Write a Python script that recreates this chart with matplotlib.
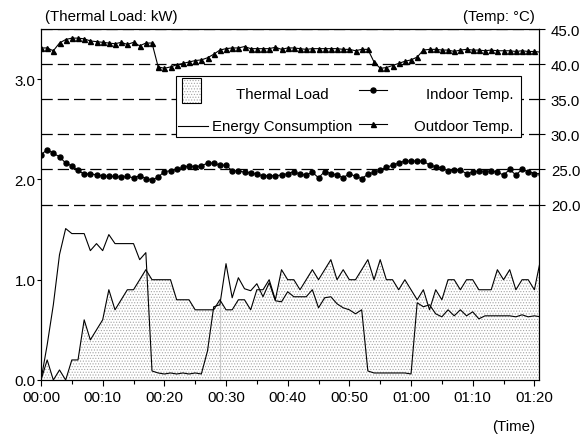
import numpy as np
import matplotlib
matplotlib.use("Agg")
import matplotlib.pyplot as plt
from matplotlib.patches import Rectangle
from matplotlib.lines import Line2D
from matplotlib.ticker import MultipleLocator, FuncFormatter

plt.rcParams['font.family'] = ['Liberation Sans', 'DejaVu Sans']
plt.rcParams['font.size'] = 10.8
plt.rcParams['hatch.linewidth'] = 0.5

# one sample per minute
minutes = np.arange(82)

thermal_load = [0.0, 0.2, 0.0, 0.1, 0.0, 0.2, 0.2, 0.6, 0.4, 0.5,
                0.6, 0.9, 0.7, 0.8, 0.9, 0.9, 1.0, 1.1, 1.0, 1.0,
                1.0, 1.0, 0.8, 0.8, 0.8, 0.7, 0.7, 0.7, 0.7, 0.8,
                0.7, 0.7, 0.8, 0.8, 0.7, 0.9, 0.9, 1.0, 0.8, 1.1,
                1.0, 1.0, 0.9, 1.0, 1.1, 1.0, 1.1, 1.2, 1.0, 1.1,
                1.0, 1.0, 1.1, 1.2, 1.0, 1.2, 1.0, 1.0, 0.9, 1.0,
                0.9, 0.8, 0.9, 0.7, 0.9, 0.8, 1.0, 1.0, 0.9, 1.0,
                1.0, 0.9, 0.9, 0.9, 1.1, 1.0, 1.1, 0.9, 1.0, 1.0,
                0.9, 1.2]

energy = [0.0, 0.35, 0.75, 1.25, 1.51, 1.46, 1.46, 1.46, 1.29, 1.36,
          1.29, 1.45, 1.36, 1.36, 1.36, 1.36, 1.20, 1.27, 0.09, 0.07,
          0.06, 0.07, 0.06, 0.07, 0.06, 0.07, 0.06, 0.29, 0.73, 0.75,
          1.16, 0.82, 1.02, 0.91, 0.89, 0.96, 0.83, 0.97, 0.79, 0.78,
          0.88, 0.83, 0.83, 0.83, 0.90, 0.72, 0.82, 0.83, 0.76, 0.72,
          0.70, 0.66, 0.70, 0.09, 0.07, 0.07, 0.07, 0.07, 0.07, 0.07,
          0.06, 0.77, 0.73, 0.75, 0.66, 0.63, 0.70, 0.64, 0.70, 0.64,
          0.68, 0.61, 0.64, 0.64, 0.64, 0.64, 0.64, 0.63, 0.65, 0.63,
          0.64, 0.63]

indoor_temp = [27.1, 27.8, 27.3, 26.8, 25.9, 25.5, 24.9, 24.3, 24.4, 24.2,
               24.1, 24.0, 24.0, 23.9, 24.0, 23.8, 24.1, 23.7, 23.5, 23.9,
               24.7, 24.8, 25.0, 25.3, 25.5, 25.4, 25.5, 25.9, 25.9, 25.6,
               25.6, 24.8, 24.8, 24.6, 24.5, 24.3, 24.1, 24.1, 24.1, 24.2,
               24.4, 24.7, 24.3, 24.2, 24.6, 23.8, 24.7, 24.4, 24.2, 23.8,
               24.4, 24.0, 23.7, 24.3, 24.6, 24.9, 25.3, 25.6, 25.9, 26.2,
               26.2, 26.2, 26.2, 25.6, 25.4, 25.2, 24.8, 24.9, 24.9, 24.4,
               24.6, 24.8, 24.7, 24.8, 24.6, 24.2, 25.0, 24.2, 25.0, 24.7,
               24.4, 24.4]

outdoor_temp = [42.3, 42.3, 41.9, 43.0, 43.5, 43.7, 43.7, 43.6, 43.3, 43.2,
                43.1, 43.0, 42.9, 43.1, 42.8, 43.1, 42.6, 43.0, 43.0, 39.6,
                39.4, 39.6, 39.9, 40.1, 40.3, 40.5, 40.6, 40.9, 41.4, 42.0,
                42.2, 42.3, 42.3, 42.5, 42.2, 42.2, 42.2, 42.2, 42.4, 42.1,
                42.3, 42.3, 42.2, 42.1, 42.2, 42.2, 42.2, 42.2, 42.2, 42.1,
                42.1, 41.9, 42.1, 42.1, 40.3, 39.4, 39.5, 39.8, 40.1, 40.4,
                40.6, 41.0, 42.0, 42.1, 42.1, 42.0, 42.0, 41.8, 42.0, 42.1,
                42.0, 42.0, 41.9, 42.0, 41.9, 41.9, 41.9, 41.8, 41.9, 41.8,
                41.8, 41.7]

W, H = 588, 439
DOT_GRAY = '#a4a4a4'


def fpos(x, y):
    # pixel position (top-left origin) -> figure fraction
    return x / W, 1 - y / H


fig = plt.figure(figsize=(W / 100, H / 100), dpi=100)
ax = fig.add_axes([41 / W, 1 - 381 / H, (539 - 41) / W, (381 - 30) / H])

# thermal load as dotted area, energy as plain line
ax.fill_between(minutes, thermal_load, 0, facecolor='white', edgecolor=DOT_GRAY,
                hatch='......', linewidth=0, zorder=1)
ax.vlines(minutes[29], 0, thermal_load[29], colors='#c8c8c8', lw=0.8, zorder=1.5)
ax.plot(minutes, thermal_load, color='black', lw=0.8, zorder=2)
ax.plot(minutes, energy, color='black', lw=0.8, zorder=2)

ax.set_xlim(0, 80.75)
ax.set_ylim(0, 3.5)
ax.xaxis.set_major_locator(MultipleLocator(10))
ax.xaxis.set_minor_locator(MultipleLocator(5))
ax.xaxis.set_major_formatter(FuncFormatter(lambda m, p: f"{int(m) // 60:02d}:{int(m) % 60:02d}"))
ax.set_yticks([0, 1, 2, 3])
ax.yaxis.set_major_formatter(FuncFormatter(lambda v, p: f"{v:.1f}"))
ax.tick_params(axis='y', direction='out', length=3, width=0.8, pad=1)
ax.tick_params(axis='x', which='major', direction='out', length=4, width=0.8, pad=3)
ax.tick_params(axis='x', which='minor', direction='out', length=3, width=0.8)
for s in ax.spines.values():
    s.set_linewidth(0.8)

# temperatures on the right axis
ax2 = ax.twinx()
ax2.set_ylim(-5, 45)
ax2.set_yticks([20, 25, 30, 35, 40, 45])
ax2.yaxis.set_major_formatter(FuncFormatter(lambda v, p: f"{v:.1f}"))
ax2.tick_params(axis='y', direction='out', length=4.5, width=0.8, pad=4)
ax2.grid(axis='y', color='black', lw=0.9, linestyle=(0, (9, 4)))
ax2.plot(minutes, indoor_temp, color='black', lw=0.8, marker='o', markersize=3.6)
ax2.plot(minutes, outdoor_temp, color='black', lw=0.8, marker='^', markersize=3.6)
for s in ax2.spines.values():
    s.set_linewidth(0.8)

fig.text(*fpos(111, 17), "(Thermal Load: kW)", ha='center', va='center')
fig.text(*fpos(499, 17), "(Temp: °C)", ha='center', va='center')
fig.text(*fpos(514, 427), "(Time)", ha='center', va='center')

# legend box
x0, y0 = fpos(176, 138)
x1, y1 = fpos(521, 77)
fig.add_artist(Rectangle((x0, y0), x1 - x0, y1 - y0, transform=fig.transFigure,
                         facecolor='white', edgecolor='black', lw=0.8, zorder=5))
px0, py0 = fpos(182, 104)
px1, py1 = fpos(201, 79)
fig.add_artist(Rectangle((px0, py0), px1 - px0, py1 - py0, transform=fig.transFigure,
                         facecolor='white', edgecolor=DOT_GRAY, hatch='......', lw=0, zorder=6))
fig.add_artist(Rectangle((px0, py0), px1 - px0, py1 - py0, transform=fig.transFigure,
                         facecolor='none', edgecolor='black', lw=0.8, zorder=6))
fig.add_artist(Line2D([178 / W, 208 / W], [1 - 127 / H] * 2, transform=fig.transFigure,
                      color='black', lw=0.8, zorder=6))
fig.add_artist(Line2D([359 / W, 373 / W, 387 / W], [1 - 91 / H] * 3, transform=fig.transFigure,
                      color='black', lw=0.8, marker='o', markersize=3.6, markevery=[1], zorder=6))
fig.add_artist(Line2D([359 / W, 373 / W, 387 / W], [1 - 125 / H] * 3, transform=fig.transFigure,
                      color='black', lw=0.8, marker='^', markersize=3.6, markevery=[1], zorder=6))
fig.text(*fpos(282, 95), "Thermal Load", ha='center', va='center', zorder=7)
fig.text(*fpos(282, 127), "Energy Consumption", ha='center', va='center', zorder=7)
fig.text(*fpos(513, 95), "Indoor Temp.", ha='right', va='center', zorder=7)
fig.text(*fpos(513, 127), "Outdoor Temp.", ha='right', va='center', zorder=7)

fig.savefig("out.png", dpi=100)
